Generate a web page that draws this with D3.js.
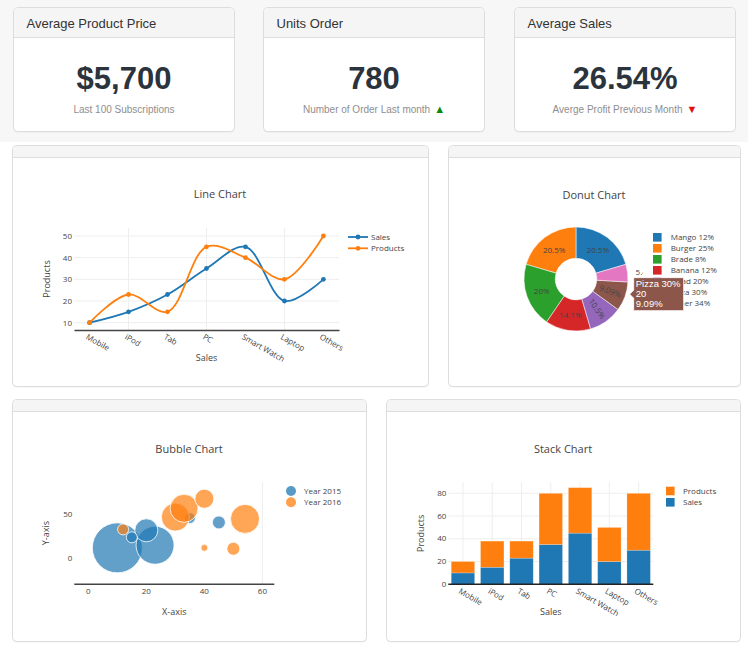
<!DOCTYPE html>
<html>
<head>
<meta charset="utf-8">
<script src="https://cdnjs.cloudflare.com/ajax/libs/d3/7.8.5/d3.min.js"></script>
<style>
  body { margin: 0; background: #fff; }
  svg { display: block; font-family: "Open Sans", sans-serif; }
</style>
</head>
<body>
<svg id="dash" width="748" height="656"></svg>
<script>
// shared categories for line + stack charts
const categories = ["Mobile", "iPod", "Tab", "PC", "Smart Watch", "Laptop", "Others"];
const sales = [10, 15, 23, 35, 45, 20, 30];
const products = [10, 23, 15, 45, 40, 30, 50];

// stat cards
const statTitles = ["Average Product Price", "Units Order", "Average Sales"];
const statValues = ["$5,700", "780", "26.54%"];
const statNotes = ["Last 100 Subscriptions", "Number of Order Last month", "Averge Profit Previous Month"];
const statTrend = [null, "up", "down"];

// donut
const donutLabels = ["Mango 12%", "Burger 25%", "Brade 8%", "Banana 12%", "Salad 20%", "Pizza 30%", "Other 34%"];
const donutValues = [45, 45, 44, 31, 23, 20, 12];
const hoverLabel = "Pizza 30%";

// bubble
const bubble2015X = [10, 23, 20, 15, 45, 35];
const bubble2015Y = [12, 15, 32, 24, 41, 46];
const bubble2015Size = [50, 38, 23, 11, 13, 11];
const bubble2016X = [12, 30, 33, 40, 54, 40, 50];
const bubble2016Y = [33, 47, 57, 68, 45, 12, 11];
const bubble2016Size = [11, 28, 28, 19, 29, 7, 13];

const lineTicks = [10, 20, 30, 40, 50];
const bubbleXTicks = [0, 20, 40, 60];
const bubbleYTicks = [0, 50];
const stackTicks = [0, 20, 40, 60, 80];

const blue = "#1f77b4";
const orange = "#ff7f0e";
const pieColors = d3.schemeCategory10;
const cardFont = '"Liberation Sans", Arial, Helvetica, sans-serif';

const svg = d3.select("#dash");

svg.append("rect").attr("width", 748).attr("height", 142).attr("fill", "#f7f7f7");

const roundedTop = (x, y, w, h, r) =>
  `M${x},${y + h}V${y + r}Q${x},${y} ${x + r},${y}H${x + w - r}Q${x + w},${y} ${x + w},${y + r}V${y + h}Z`;

const drawBox = (x, y, w, h, headH) => {
  const g = svg.append("g");
  g.append("rect")
    .attr("x", x).attr("y", y + 1).attr("width", w).attr("height", h)
    .attr("rx", 4).attr("fill", "rgba(0,0,0,0.06)");
  g.append("rect")
    .attr("x", x).attr("y", y).attr("width", w).attr("height", h)
    .attr("rx", 4).attr("fill", "#fff").attr("stroke", "#ddd");
  g.append("path").attr("d", roundedTop(x + 0.5, y + 0.5, w - 1, headH, 3.5)).attr("fill", "#f5f5f5");
  g.append("line")
    .attr("x1", x).attr("x2", x + w)
    .attr("y1", y + headH).attr("y2", y + headH)
    .attr("stroke", "#ddd");
  return g;
};

const label = (g, x, y, s, size, anchor) =>
  g.append("text")
    .attr("x", x).attr("y", y)
    .attr("font-size", size)
    .attr("text-anchor", anchor || "middle")
    .attr("fill", "#444")
    .text(s);

const yLabel = (g, x, y, s) =>
  g.append("text")
    .attr("transform", `translate(${x},${y}) rotate(-90)`)
    .attr("font-size", 9).attr("text-anchor", "middle").attr("dy", "0.35em")
    .attr("fill", "#444").text(s);

// ---------- stat cards ----------
const createCards = () => {
  const cardX = [13.5, 263.5, 514.5];
  statTitles.forEach((t, i) => {
    const x = cardX[i], y = 7.5, w = 221, h = 124;
    const g = drawBox(x, y, w, h, 30);
    g.append("text")
      .attr("x", x + 13).attr("y", y + 20)
      .attr("font-family", cardFont).attr("font-size", 13).attr("fill", "#333")
      .text(t);
    g.append("text")
      .attr("x", x + w / 2).attr("y", 89)
      .attr("text-anchor", "middle")
      .attr("font-family", cardFont).attr("font-weight", "bold").attr("font-size", 31)
      .attr("fill", "#2b333d")
      .text(statValues[i]);
    const note = g.append("text")
      .attr("x", x + w / 2).attr("y", 112.5)
      .attr("text-anchor", "middle")
      .attr("font-family", cardFont).attr("font-size", 10).attr("fill", "#8e8e8e");
    note.append("tspan").text(statNotes[i]);
    if (statTrend[i]) {
      note.append("tspan")
        .attr("dx", 4).attr("font-size", 11)
        .attr("fill", statTrend[i] == "up" ? "#0a8a0a" : "#e01010")
        .text(statTrend[i] == "up" ? "▲" : "▼");
    }
  });
};

// ---------- line chart ----------
const createLineChart = () => {
  drawBox(12.5, 145.5, 416, 241, 12);
  const g = svg.append("g");
  const left = 74, right = 339, top = 228, bottom = 330;
  const x = d3.scalePoint().domain(categories).range([left, right]).padding(0.4);
  const y = d3.scaleLinear().domain([6.6, 53.7]).range([bottom, top]);

  g.selectAll("line.hgrid").data(lineTicks).join("line").attr("class", "hgrid")
    .attr("x1", left).attr("x2", right)
    .attr("y1", (d) => y(d)).attr("y2", (d) => y(d))
    .attr("stroke", "#eee");
  g.selectAll("line.vgrid").data(categories.filter((d, i) => i % 2 == 1)).join("line").attr("class", "vgrid")
    .attr("x1", (d) => x(d)).attr("x2", (d) => x(d))
    .attr("y1", top).attr("y2", bottom)
    .attr("stroke", "#eee");

  const yAxis = g.append("g").attr("transform", `translate(${left},0)`)
    .call(d3.axisLeft(y).tickValues(lineTicks).tickSize(0).tickPadding(2));
  yAxis.select(".domain").remove();
  yAxis.attr("font-family", null).selectAll("text").attr("font-size", 8).attr("fill", "#444");

  const xAxis = g.append("g").attr("transform", `translate(0,${bottom})`)
    .call(d3.axisBottom(x).tickSize(0).tickPadding(4));
  xAxis.select(".domain").attr("stroke", "#444").attr("stroke-width", 1.5);
  xAxis.attr("font-family", null).selectAll("text")
    .attr("font-size", 8).attr("fill", "#444")
    .attr("transform", "rotate(30)").style("text-anchor", "start");

  const line = d3.line()
    .x((d, i) => x(categories[i]))
    .y((d) => y(d))
    .curve(d3.curveCatmullRom.alpha(0.5));

  [[sales, blue], [products, orange]].forEach(([vals, c]) => {
    g.append("path").datum(vals)
      .attr("d", line).attr("fill", "none")
      .attr("stroke", c).attr("stroke-width", 1.8);
    g.append("g").selectAll("circle").data(vals).join("circle")
      .attr("cx", (d, i) => x(categories[i])).attr("cy", (d) => y(d))
      .attr("r", 2.4).attr("fill", c);
  });

  label(g, 220, 198, "Line Chart", 11);
  label(g, (left + right) / 2, 361, "Sales", 9);
  yLabel(g, 47, (top + bottom) / 2, "Products");

  const legend = g.append("g").attr("transform", "translate(348,237)");
  [["Sales", blue], ["Products", orange]].forEach(([name, c], i) => {
    const row = legend.append("g").attr("transform", `translate(0,${i * 11.3})`);
    row.append("line").attr("x1", 0).attr("x2", 20).attr("stroke", c).attr("stroke-width", 1.8);
    row.append("circle").attr("cx", 10).attr("r", 2.4).attr("fill", c);
    row.append("text").attr("x", 23).attr("dy", "0.35em").attr("font-size", 8).attr("fill", "#444").text(name);
  });
};

// ---------- donut chart ----------
const createDonut = () => {
  drawBox(448.5, 145.5, 292, 241, 12);
  const g = svg.append("g");
  const cx = 576, cy = 279, r = 52;
  const total = d3.sum(donutValues);
  const pct = d3.format(".3~p");
  const data = donutLabels.map((name, i) => ({ name, value: donutValues[i], color: pieColors[i], i }));

  // slices run counterclockwise in data order, first slice ending at 12 o'clock
  const rot = (2 * Math.PI * donutValues[0]) / total;
  const pie = d3.pie()
    .value((d) => d.value)
    .sort(null)
    .startAngle(rot).endAngle(rot - 2 * Math.PI);
  const arcs = pie(data);
  const arc = d3.arc().innerRadius(r * 0.4).outerRadius(r);

  const slices = g.append("g").attr("transform", `translate(${cx},${cy})`);
  slices.selectAll("path").data(arcs).join("path")
    .attr("d", arc).attr("fill", (d) => d.data.color)
    .attr("stroke", "#fff").attr("stroke-width", 0.5);

  slices.selectAll("text").data(arcs).join("text")
    .attr("transform", (d) => {
      const span = Math.abs(d.endAngle - d.startAngle);
      const mid = (d.startAngle + d.endAngle) / 2;
      if (span < 0.4) {
        return `translate(${Math.sin(mid) * (r + 8)},${-Math.cos(mid) * (r + 8)})`;
      }
      const turn = span < 0.8 ? (mid * 180) / Math.PI - 90 : 0;
      return `translate(${arc.centroid(d)}) rotate(${turn})`;
    })
    .attr("text-anchor", (d) => (Math.abs(d.endAngle - d.startAngle) < 0.4 ? "start" : "middle"))
    .attr("dy", "0.35em").attr("font-size", 8).attr("fill", "#444")
    .text((d) => pct(d.value / total));

  label(g, 594, 199, "Donut Chart", 11);

  // legend sits on white, covering anything under it
  const legend = g.append("g").attr("transform", "translate(643,230)");
  legend.append("rect").attr("width", 94).attr("height", 82).attr("fill", "#fff");
  legend.selectAll("g").data(data).join("g")
    .attr("transform", (d, i) => `translate(10,${7.3 + i * 11})`)
    .each(function (d) {
      const row = d3.select(this);
      row.append("rect").attr("x", 0).attr("y", -4.3).attr("width", 8.6).attr("height", 8.6).attr("fill", d.color);
      row.append("text").attr("x", 17.7).attr("dy", "0.35em").attr("font-size", 8).attr("fill", "#444").text(d.name);
    });

  // hover label left on the Pizza slice
  const hovered = arcs.find((d) => d.data.name == hoverLabel);
  const mid = (hovered.startAngle + hovered.endAngle) / 2;
  const tx = cx + Math.sin(mid) * (r + 5);
  const ty = cy - Math.cos(mid) * (r + 5) - 4;
  const bw = 50, bh = 33;
  const tip = g.append("g").attr("transform", `translate(${tx},${ty})`);
  tip.append("path")
    .attr("d", `M0,0L4,-4V${-bh / 2}H${4 + bw}V${bh / 2}H4V4Z`)
    .attr("fill", hovered.data.color).attr("stroke", "#fff").attr("stroke-width", 0.8);
  [hovered.data.name, hovered.data.value, pct(hovered.data.value / total)].forEach((s, i) => {
    tip.append("text")
      .attr("x", 6).attr("y", -bh / 2 + 9 + i * 10.4)
      .attr("font-family", cardFont).attr("font-size", 9.5).attr("fill", "#fff")
      .text(s);
  });
};

// ---------- bubble chart ----------
const createBubble = () => {
  drawBox(12.5, 399.5, 354, 242, 12);
  const g = svg.append("g");
  const left = 74.3, right = 274.3, top = 482, bottom = 584.3;
  const x = d3.scaleLinear().domain([-4.83, 64.1]).range([left, right]);
  const y = d3.scaleLinear().domain([-29.5, 87]).range([bottom, top]);
  const rad = d3.scaleLinear().domain([0, 50]).range([0, 25]);

  g.append("line")
    .attr("x1", x(60)).attr("x2", x(60)).attr("y1", top).attr("y2", bottom)
    .attr("stroke", "#eee");

  const series = [
    { name: "Year 2015", xs: bubble2015X, ys: bubble2015Y, ss: bubble2015Size, color: blue },
    { name: "Year 2016", xs: bubble2016X, ys: bubble2016Y, ss: bubble2016Size, color: orange },
  ];
  series.forEach((s) => {
    g.append("g").selectAll("circle").data(s.xs).join("circle")
      .attr("cx", (d) => x(d))
      .attr("cy", (d, i) => y(s.ys[i]))
      .attr("r", (d, i) => rad(s.ss[i]))
      .attr("fill", s.color).attr("fill-opacity", 0.7)
      .attr("stroke", "#fff").attr("stroke-width", 0.8);
  });

  g.append("line")
    .attr("x1", left).attr("x2", right).attr("y1", bottom).attr("y2", bottom)
    .attr("stroke", "#444").attr("stroke-width", 1.5);

  g.selectAll("text.xt").data(bubbleXTicks).join("text").attr("class", "xt")
    .attr("x", (d) => x(d)).attr("y", bottom + 10)
    .attr("text-anchor", "middle").attr("font-size", 8).attr("fill", "#444")
    .text((d) => d);
  g.selectAll("text.yt").data(bubbleYTicks).join("text").attr("class", "yt")
    .attr("x", left - 2).attr("y", (d) => y(d)).attr("dy", "0.32em")
    .attr("text-anchor", "end").attr("font-size", 8).attr("fill", "#444")
    .text((d) => d);

  label(g, 189, 453, "Bubble Chart", 11);
  label(g, (left + right) / 2, 615, "X-axis", 9);
  yLabel(g, 46, (top + bottom) / 2, "Y-axis");

  const legend = g.append("g").attr("transform", "translate(291,491)");
  series.forEach((s, i) => {
    const row = legend.append("g").attr("transform", `translate(0,${i * 11.3})`);
    row.append("circle").attr("r", 5).attr("fill", s.color).attr("fill-opacity", 0.75);
    row.append("text").attr("x", 13).attr("dy", "0.35em").attr("font-size", 8).attr("fill", "#444").text(s.name);
  });
};

// ---------- stack chart ----------
const createStack = () => {
  drawBox(386.5, 399.5, 354, 242, 12);
  const g = svg.append("g");
  const left = 448.3, right = 653.3, top = 482.3, bottom = 584.3;
  const x = d3.scaleBand().domain(categories).range([left, right]).paddingInner(0.2).paddingOuter(0.1);
  const y = d3.scaleLinear().domain([0, 89.7]).range([bottom, top]);

  g.selectAll("line.hgrid").data(stackTicks.slice(1)).join("line").attr("class", "hgrid")
    .attr("x1", left).attr("x2", right)
    .attr("y1", (d) => y(d)).attr("y2", (d) => y(d))
    .attr("stroke", "#eee");
  g.selectAll("line.vgrid").data(categories).join("line").attr("class", "vgrid")
    .attr("x1", (d) => x(d) + x.bandwidth() / 2).attr("x2", (d) => x(d) + x.bandwidth() / 2)
    .attr("y1", top).attr("y2", bottom)
    .attr("stroke", "#eee");

  const rows = categories.map((c, i) => ({ c, sales: sales[i], products: products[i] }));
  const stacked = d3.stack().keys(["sales", "products"])(rows);
  const colors = { sales: blue, products: orange };

  g.selectAll("g.layer").data(stacked).join("g").attr("class", "layer")
    .attr("fill", (d) => colors[d.key])
    .selectAll("rect").data((d) => d).join("rect")
    .attr("x", (d) => x(d.data.c))
    .attr("width", x.bandwidth())
    .attr("y", (d) => y(d[1]))
    .attr("height", (d) => y(d[0]) - y(d[1]))
    .attr("stroke", "rgba(255,255,255,0.35)").attr("stroke-width", 0.6);

  g.append("line")
    .attr("x1", left).attr("x2", right).attr("y1", bottom).attr("y2", bottom)
    .attr("stroke", "#222").attr("stroke-width", 1.5);

  g.selectAll("text.yt").data(stackTicks).join("text").attr("class", "yt")
    .attr("x", left - 2).attr("y", (d) => y(d)).attr("dy", "0.32em")
    .attr("text-anchor", "end").attr("font-size", 8).attr("fill", "#444")
    .text((d) => d);
  g.selectAll("text.xt").data(categories).join("text").attr("class", "xt")
    .attr("transform", (d) => `translate(${x(d) + x.bandwidth() / 2},${bottom}) rotate(30)`)
    .attr("y", 4).attr("dy", "0.71em")
    .attr("font-size", 8).attr("fill", "#444")
    .text((d) => d);

  label(g, 563, 453, "Stack Chart", 11);
  label(g, (left + right) / 2, 615, "Sales", 9);
  yLabel(g, 421, (top + bottom) / 2, "Products");

  const legend = g.append("g").attr("transform", "translate(666,491)");
  [["Products", orange], ["Sales", blue]].forEach(([name, c], i) => {
    const row = legend.append("g").attr("transform", `translate(0,${i * 11.3})`);
    row.append("rect").attr("y", -4.3).attr("width", 8.6).attr("height", 8.6).attr("fill", c);
    row.append("text").attr("x", 17).attr("dy", "0.35em").attr("font-size", 8).attr("fill", "#444").text(name);
  });
};

createCards();
createLineChart();
createDonut();
createBubble();
createStack();
</script>
</body>
</html>
